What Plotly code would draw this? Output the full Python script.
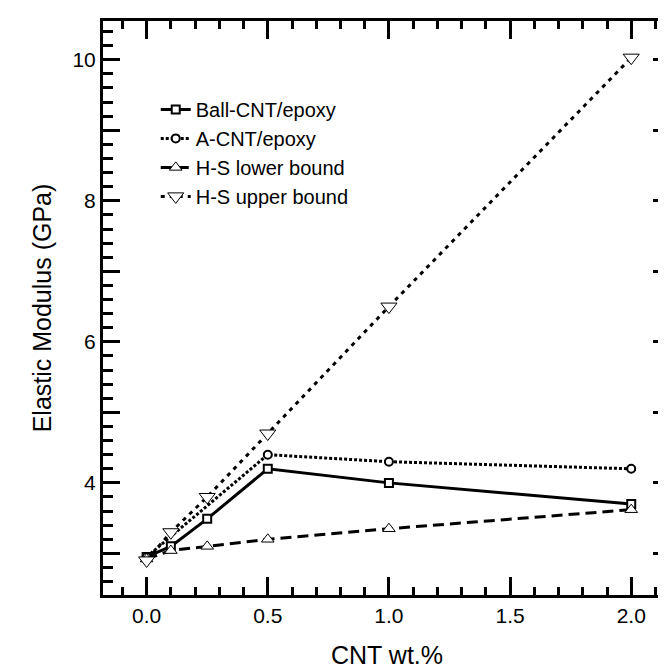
import plotly.graph_objects as go

# ---- data ----
ball_x = [0.0, 0.1, 0.25, 0.5, 1.0, 2.0]
ball_y = [2.95, 3.1, 3.49, 4.2, 4.0, 3.7]

acnt_x = [0.0, 0.5, 1.0, 2.0]
acnt_y = [2.95, 4.4, 4.3, 4.2]

lower_x = [0.0, 0.1, 0.25, 0.5, 1.0, 2.0]
lower_y = [2.92, 3.04, 3.1, 3.2, 3.35, 3.62]

upper_x = [0.0, 0.1, 0.25, 0.5, 1.0, 2.0]
upper_y = [2.9, 3.3, 3.8, 4.7, 6.5, 10.03]

names = ["Ball-CNT/epoxy", "A-CNT/epoxy", "H-S lower bound", "H-S upper bound"]
x_title = "CNT wt.%"
y_title = "Elastic Modulus (GPa)"

x_range = [-0.18, 2.16]
y_range = [2.41, 10.55]

FONT = "Liberation Sans, Arial, sans-serif"

fig = go.Figure()

fig.add_trace(go.Scatter(
    x=ball_x, y=ball_y, name=names[0], mode="lines+markers",
    line=dict(color="black", width=3, dash="solid"),
    marker=dict(symbol="square", size=8, color="white", line=dict(color="black", width=2)),
))
fig.add_trace(go.Scatter(
    x=acnt_x, y=acnt_y, name=names[1], mode="lines+markers",
    line=dict(color="black", width=3, dash="3px,2px"),
    marker=dict(symbol="circle", size=8, color="white", line=dict(color="black", width=2)),
))
fig.add_trace(go.Scatter(
    x=lower_x, y=lower_y, name=names[2], mode="lines+markers",
    line=dict(color="black", width=3, dash="11px,6px"),
    marker=dict(symbol="triangle-up", size=11, color="white", line=dict(color="black", width=1)),
))
fig.add_trace(go.Scatter(
    x=upper_x, y=upper_y, name=names[3], mode="lines+markers",
    line=dict(color="black", width=3, dash="4px,5px"),
    marker=dict(symbol="triangle-down", size=14, color="white", line=dict(color="black", width=1)),
))

fig.update_layout(
    width=666, height=664,
    margin=dict(l=95, r=1, t=13, b=77),
    plot_bgcolor="white",
    font=dict(family=FONT, size=21, color="black"),
    legend=dict(
        x=0.093, y=0.88, xanchor="left", yanchor="top",
        bgcolor="rgba(0,0,0,0)",
        font=dict(family=FONT, size=20, color="black"),
    ),
    xaxis=dict(
        range=x_range,
        showline=True, linecolor="black", linewidth=3, mirror="ticks",
        ticks="inside", dtick=0.5, tick0=0,
        ticklen=18, tickwidth=3, tickcolor="black",
        tickformat=".1f",
        minor=dict(ticks="inside", ticklen=8, tickwidth=3, tickcolor="black"),
    ),
    yaxis=dict(
        range=y_range,
        showline=True, linecolor="black", linewidth=3, mirror="ticks",
        ticks="inside", dtick=1, tick0=0, ticklabelstep=2,
        ticklen=17, tickwidth=3, tickcolor="black",
        minor=dict(ticks="inside", ticklen=10, tickwidth=3, tickcolor="black"),
        title=dict(text=y_title, font=dict(family=FONT, size=25), standoff=14),
        tickfont=dict(family=FONT, size=21),
    ),
    annotations=[dict(
        text=x_title, xref="paper", yref="paper", x=0.5, y=-0.105,
        xanchor="center", yanchor="middle", showarrow=False,
        font=dict(family=FONT, size=25, color="black"),
    )],
)

fig.write_html("out.html")
